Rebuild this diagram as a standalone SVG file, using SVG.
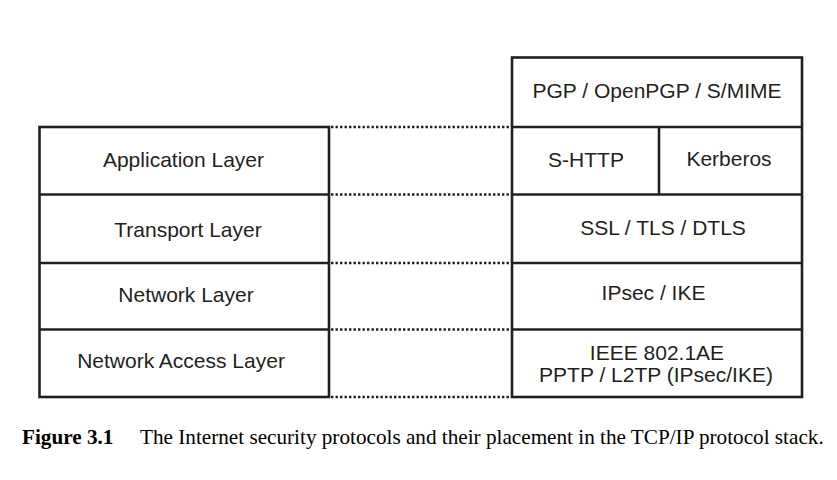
<svg xmlns="http://www.w3.org/2000/svg" width="837" height="480" viewBox="0 0 837 480">
<style>
.box{fill:none;stroke:#231f20;stroke-width:2.6}
.div{stroke:#231f20;stroke-width:2.6}
.dot{stroke:#231f20;stroke-width:2.6;stroke-dasharray:2.4 2.1;fill:none}
.t{font-family:"Liberation Sans",Arial,sans-serif;font-size:21px;fill:#231f20;text-anchor:middle}
.cap{font-family:"Liberation Serif","Times New Roman",serif;font-size:21.2px;fill:#000}
</style>
<rect width="837" height="480" fill="#fff"/>
<g id="connectors">
<line class="dot" x1="331" y1="127" x2="510" y2="127"/>
<line class="dot" x1="331" y1="194.5" x2="510" y2="194.5"/>
<line class="dot" x1="331" y1="263" x2="510" y2="263"/>
<line class="dot" x1="331" y1="329.5" x2="510" y2="329.5"/>
<line class="dot" x1="331" y1="397" x2="510" y2="397"/>
</g>
<g id="tcpip-stack">
<rect class="box" x="39.5" y="127" width="289.5" height="270"/>
<line class="div" x1="39.5" y1="194.5" x2="329" y2="194.5"/>
<line class="div" x1="39.5" y1="263" x2="329" y2="263"/>
<line class="div" x1="39.5" y1="329.5" x2="329" y2="329.5"/>
</g>
<g id="application-layer"><text class="t" x="183.5" y="167">Application Layer</text></g>
<g id="transport-layer"><text class="t" x="188" y="237">Transport Layer</text></g>
<g id="network-layer"><text class="t" x="186" y="302">Network Layer</text></g>
<g id="network-access-layer"><text class="t" x="181" y="368">Network Access Layer</text></g>
<g id="security-stack">
<rect class="box" x="512" y="57.5" width="290" height="339.5"/>
<line class="div" x1="512" y1="127" x2="802" y2="127"/>
<line class="div" x1="512" y1="194.5" x2="802" y2="194.5"/>
<line class="div" x1="512" y1="263" x2="802" y2="263"/>
<line class="div" x1="512" y1="329.5" x2="802" y2="329.5"/>
<line class="div" x1="659" y1="127" x2="659" y2="194.5"/>
</g>
<g id="pgp"><text class="t" x="657" y="97.5">PGP / OpenPGP / S/MIME</text></g>
<g id="shttp"><text class="t" x="586" y="166.5">S-HTTP</text></g>
<g id="kerberos"><text class="t" x="729" y="166">Kerberos</text></g>
<g id="ssl"><text class="t" x="663" y="235">SSL / TLS / DTLS</text></g>
<g id="ipsec"><text class="t" x="653.5" y="300">IPsec / IKE</text></g>
<g id="ieee"><text class="t" x="657" y="360">IEEE 802.1AE</text><text class="t" x="656" y="381.5">PPTP / L2TP (IPsec/IKE)</text></g>
<g id="caption">
<text class="cap" x="22" y="444" font-weight="bold">Figure 3.1</text>
<text class="cap" x="140" y="444">The Internet security protocols and their placement in the TCP/IP protocol stack.</text>
</g>
</svg>
